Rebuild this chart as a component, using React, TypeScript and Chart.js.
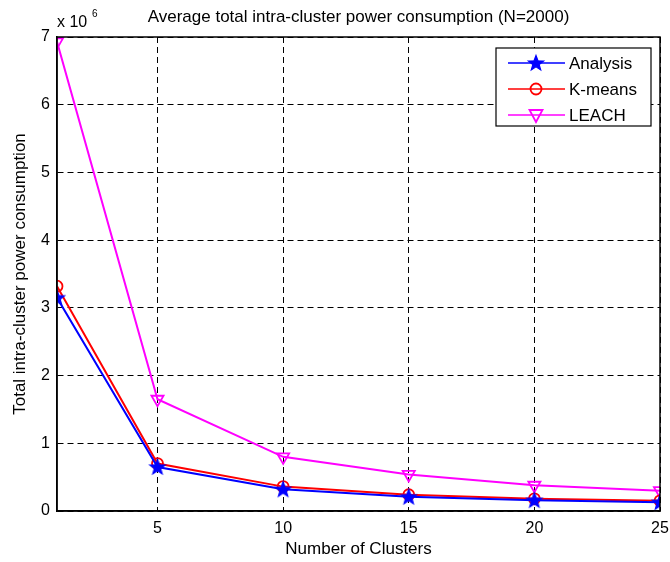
import React, { useEffect, useRef } from "react";
import { Chart, registerables } from "chart.js";

Chart.register(...registerables);

const clusters = [1, 5, 10, 15, 20, 25];
const analysis = [3.15, 0.65, 0.32, 0.21, 0.16, 0.13];
const kmeans = [3.32, 0.7, 0.36, 0.24, 0.18, 0.15];
const leach = [6.93, 1.65, 0.8, 0.54, 0.38, 0.3];
const xTicks = [5, 10, 15, 20, 25];
const seriesNames = ["Analysis", "K-means", "LEACH"];
const titleText = "Average total intra-cluster power consumption (N=2000)";
const xTitle = "Number of Clusters";
const yTitle = "Total intra-cluster power consumption";

const FONT = "'Liberation Sans', Arial, sans-serif";

function makeStar(color: string, r: number): HTMLCanvasElement {
  const c = document.createElement("canvas");
  const s = Math.ceil(r * 2 + 4);
  c.width = s;
  c.height = s;
  const ctx = c.getContext("2d")!;
  const cx = s / 2, cy = s / 2 + 0.5;
  ctx.beginPath();
  for (let i = 0; i < 10; i++) {
    const rad = i % 2 === 0 ? r : r * 0.42;
    const a = -Math.PI / 2 + (i * Math.PI) / 5;
    const x = cx + rad * Math.cos(a);
    const y = cy + rad * Math.sin(a);
    if (i === 0) ctx.moveTo(x, y);
    else ctx.lineTo(x, y);
  }
  ctx.closePath();
  ctx.fillStyle = color;
  ctx.fill();
  ctx.strokeStyle = color;
  ctx.lineWidth = 1.2;
  ctx.stroke();
  return c;
}

export default function App() {
  const ref = useRef<HTMLCanvasElement>(null);
  useEffect(() => {
    document.body.style.margin = "0";
    const star = makeStar("#0000ff", 8);
    const frame = {
      id: "frame",
      afterDraw(chart: any) {
        const { ctx, chartArea: a } = chart;
        ctx.save();
        ctx.strokeStyle = "#000";
        ctx.lineWidth = 1.5;
        ctx.strokeRect(a.left, a.top, a.right - a.left, a.bottom - a.top);
        // title
        ctx.fillStyle = "#000";
        ctx.font = `17px ${FONT}`;
        ctx.textAlign = "center";
        ctx.textBaseline = "middle";
        ctx.fillText(titleText, (a.left + a.right) / 2, 17);
        // exponent
        ctx.textAlign = "left";
        ctx.font = `16px ${FONT}`;
        ctx.fillText("x 10", 57, 23);
        ctx.font = `10px ${FONT}`;
        ctx.fillText("6", 92, 14);
        // legend
        const bx = a.right - 164, by = a.top + 11, bw = 155, bh = 78;
        ctx.fillStyle = "#fff";
        ctx.fillRect(bx, by, bw, bh);
        ctx.strokeStyle = "#000";
        ctx.lineWidth = 1.2;
        ctx.strokeRect(bx, by, bw, bh);
        const colors = ["#0000ff", "#ff0000", "#ff00ff"];
        seriesNames.forEach((name, i) => {
          const y = by + 15 + i * 26;
          ctx.strokeStyle = colors[i];
          ctx.lineWidth = 1.5;
          ctx.beginPath();
          ctx.moveTo(bx + 12, y);
          ctx.lineTo(bx + 69, y);
          ctx.stroke();
          const mx = bx + 40;
          if (i === 0) {
            ctx.drawImage(star, mx - star.width / 2, y - star.height / 2);
          } else if (i === 1) {
            ctx.beginPath();
            ctx.arc(mx, y, 5.5, 0, Math.PI * 2);
            ctx.lineWidth = 1.8;
            ctx.stroke();
          } else {
            ctx.beginPath();
            ctx.moveTo(mx - 6.5, y - 5);
            ctx.lineTo(mx + 6.5, y - 5);
            ctx.lineTo(mx, y + 7);
            ctx.closePath();
            ctx.lineWidth = 1.8;
            ctx.stroke();
          }
          ctx.fillStyle = "#000";
          ctx.font = `17px ${FONT}`;
          ctx.textAlign = "left";
          ctx.textBaseline = "middle";
          ctx.fillText(name, bx + 73, y + 1);
        });
        ctx.restore();
      },
    };
    const chart = new Chart(ref.current!, {
      type: "line",
      data: {
        labels: clusters,
        datasets: [
          {
            label: seriesNames[0],
            data: clusters.map((x, i) => ({ x, y: analysis[i] })),
            borderColor: "#0000ff",
            backgroundColor: "#0000ff",
            borderWidth: 2,
            pointStyle: star as any,
            pointRadius: 8,
          },
          {
            label: seriesNames[1],
            data: clusters.map((x, i) => ({ x, y: kmeans[i] })),
            borderColor: "#ff0000",
            backgroundColor: "rgba(0,0,0,0)",
            borderWidth: 2,
            pointStyle: "circle",
            pointRadius: 5.5,
            pointBorderWidth: 1.8,
          },
          {
            label: seriesNames[2],
            data: clusters.map((x, i) => ({ x, y: leach[i] })),
            borderColor: "#ff00ff",
            backgroundColor: "rgba(0,0,0,0)",
            borderWidth: 2,
            pointStyle: "triangle",
            pointRotation: 180,
            pointRadius: 7,
            pointBorderWidth: 1.8,
          },
        ],
      },
      options: {
        animation: false,
        responsive: false,
        layout: { padding: { top: 37, right: 8, left: 0, bottom: 0 } },
        plugins: {
          legend: { display: false },
          title: { display: false },
          tooltip: { enabled: false },
        },
        scales: {
          x: {
            type: "linear",
            min: 1,
            max: 25,
            afterBuildTicks: (s: any) => {
              s.ticks = xTicks.map((v) => ({ value: v }));
            },
            afterFit: (s: any) => {
              s.height = 51;
              s.paddingLeft = 0;
              s.paddingRight = 0;
            },
            grid: { color: "#000", lineWidth: 1, drawTicks: false },
            border: { display: true, color: "#000", width: 1.5, dash: [6, 4] },
            ticks: {
              color: "#000",
              font: { family: FONT, size: 16 },
              padding: 8,
              maxRotation: 0,
            },
            title: {
              display: true,
              text: xTitle,
              color: "#000",
              font: { family: FONT, size: 17 },
              padding: { top: 0, bottom: 2 },
            },
          },
          y: {
            min: 0,
            max: 7,
            ticks: {
              stepSize: 1,
              color: "#000",
              font: { family: FONT, size: 16 },
              padding: 7,
            },
            afterFit: (s: any) => {
              s.width = 57;
              s.paddingTop = 0;
              s.paddingBottom = 0;
            },
            grid: { color: "#000", lineWidth: 1, drawTicks: false },
            border: { display: true, color: "#000", width: 1.5, dash: [6, 4] },
            title: {
              display: true,
              text: yTitle,
              color: "#000",
              font: { family: FONT, size: 17 },
              padding: { top: 10, bottom: 0 },
            },
          },
        },
      },
      plugins: [frame],
    });
    return () => chart.destroy();
  }, []);
  return (
    <div style={{ width: 670, height: 562 }}>
      <canvas ref={ref} width={670} height={562} />
    </div>
  );
}
